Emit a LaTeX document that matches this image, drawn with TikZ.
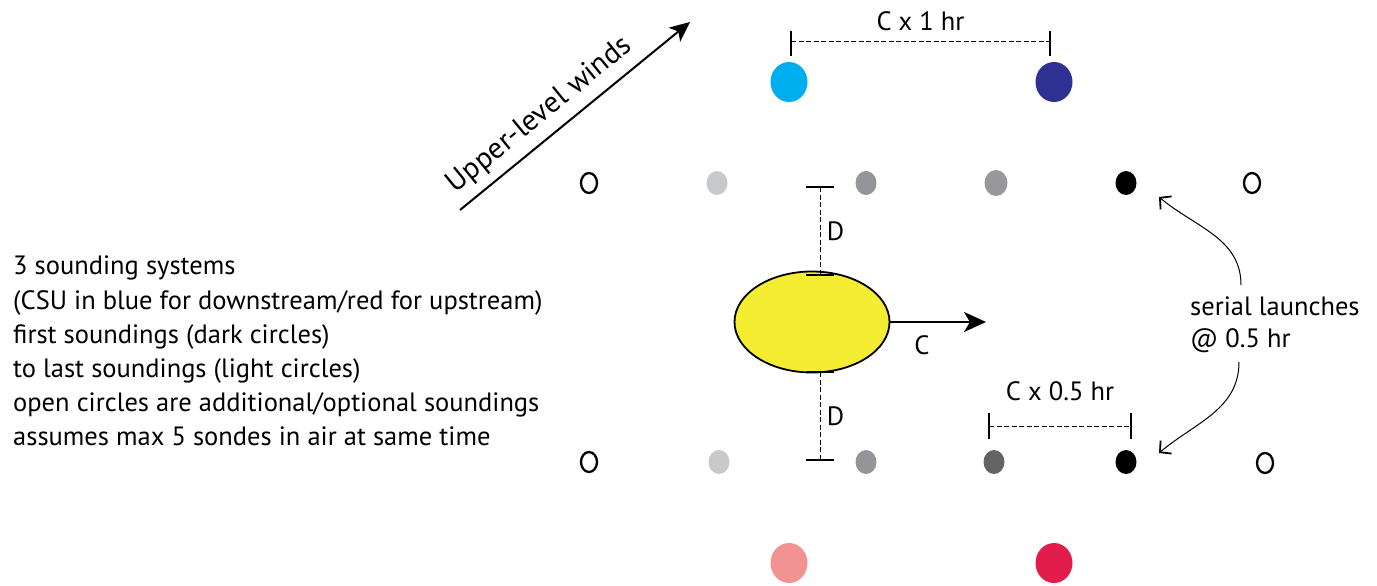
\documentclass[tikz,border=0pt]{standalone}
\usepackage{fontspec}
\setmainfont{PT Sans}
\usetikzlibrary{arrows.meta,shapes.geometric,calc}
\definecolor{cyanC}{RGB}{0,174,239}
\definecolor{navyC}{RGB}{46,49,146}
\definecolor{pinkC}{RGB}{242,146,146}
\definecolor{redC}{RGB}{226,29,76}
\definecolor{stormY}{RGB}{245,237,50}
\definecolor{grayL}{RGB}{200,201,203}
\definecolor{grayM}{RGB}{147,149,152}
\definecolor{grayN}{RGB}{152,152,155}
\definecolor{grayD}{RGB}{99,100,102}
\begin{document}
\begin{tikzpicture}[x=1pt,y=-1pt,
  font=\fontsize{26.5}{34.2}\selectfont,
  bigdot/.style={ellipse, inner sep=0, minimum width=37pt, minimum height=40pt},
  smalldot/.style={ellipse, inner sep=0, minimum width=21pt, minimum height=24pt},
  opendot/.style={ellipse, draw, line width=2.3pt, inner sep=0, minimum width=16pt, minimum height=20pt},
  dimline/.style={line width=1pt, dash pattern=on 5pt off 2.5pt},
  dimtick/.style={line width=1.8pt},
  bigarrow/.style={line width=2.2pt, -{Stealth[length=22pt,width=20pt,inset=6pt]}},
  curvearrow/.style={line width=1pt, -{Straight Barb[length=8pt,width=17pt,line width=1.8pt]}}]
\useasboundingbox (0,0) rectangle (1377,586);

% left text
\node[anchor=north west, align=left, inner sep=0] (legend) at (13,256)
  {3 sounding systems\\
   (CSU in blue for downstream/red for upstream)\\
   first soundings (dark circles)\\
   to last soundings (light circles)\\
   open circles are additional/optional soundings\\
   assumes max 5 sondes in air at same time};

% upper-level winds
\coordinate (w0) at (460,210);
\coordinate (w1) at (690,22);
\draw[bigarrow, line width=2pt, -{Stealth[length=20pt,width=18pt,inset=5pt]}] (w0) -- (w1)
  node[pos=0.41, sloped, above=5pt, font=\fontsize{29.5}{31}\selectfont] {Upper-level winds};

% big dots
\node[bigdot, fill=cyanC] (bl) at (789,82) {};
\node[bigdot, fill=navyC] (bd) at (1054,82) {};
\node[bigdot, fill=pinkC] (rl) at (789,563) {};
\node[bigdot, fill=redC] (rd) at (1054,563) {};

% top row
\node[opendot] (o1) at (589,183) {};
\node[smalldot, fill=grayL] (g1) at (717,183) {};
\node[smalldot, fill=grayM] (g2) at (866,183) {};
\node[smalldot, fill=grayN, minimum width=23pt, minimum height=26pt] (g3) at (996,183) {};
\node[smalldot, fill=black] (k1) at (1126,183) {};
\node[opendot] (o2) at (1252,183) {};

% bottom row
\node[opendot] (o3) at (589,462) {};
\node[smalldot, fill=grayL] (g4) at (719,462) {};
\node[smalldot, fill=grayM] (g5) at (866,462) {};
\node[smalldot, fill=grayD] (g6) at (994,462) {};
\node[smalldot, fill=black] (k2) at (1126,462) {};
\node[opendot] (o4) at (1265,463) {};

% storm
\node[ellipse, draw, line width=1.8pt, fill=stormY, inner sep=0,
      minimum width=155pt, minimum height=101pt] (storm) at (812,322) {};
\coordinate (cEnd) at (986,322);
\draw[bigarrow] (storm.east) -- (cEnd) node[pos=0.33, below=9pt] {C};

% D dimensions
\coordinate (dA) at (820,187);
\coordinate (dB) at (820,275);
\coordinate (dC) at (820,372);
\coordinate (dD) at (820,460);
\draw[dimline] (dA) -- (dB) node[midway, right=3pt] {D};
\draw[dimtick] ($(dA)+(-14,0)$) -- ($(dA)+(14,0)$);
\draw[dimtick] ($(dB)+(-14,0)$) -- ($(dB)+(14,0)$);
\draw[dimline] (dC) -- (dD) node[midway, right=3pt] {D};
\draw[dimtick] ($(dC)+(-14,0)$) -- ($(dC)+(14,0)$);
\draw[dimtick] ($(dD)+(-14,0)$) -- ($(dD)+(14,0)$);

% C x 1 hr
\coordinate (h1) at (791,42);
\coordinate (h2) at (1050,42);
\draw[dimline] (h1) -- (h2) node[midway, above=7pt] {C x 1 hr};
\draw[dimtick, line width=1.5pt] ($(h1)+(0,-11)$) -- ($(h1)+(0,14)$);
\draw[dimtick, line width=1.5pt] ($(h2)+(0,-11)$) -- ($(h2)+(0,14)$);

% C x 0.5 hr
\coordinate (q1) at (989,426);
\coordinate (q2) at (1131,426);
\draw[dimline] (q1) -- (q2) node[midway, above=21pt] {C x 0.5 hr};
\draw[dimtick, line width=1.5pt] ($(q1)+(0,-13)$) -- ($(q1)+(0,13)$);
\draw[dimtick, line width=1.5pt] ($(q2)+(0,-13)$) -- ($(q2)+(0,13)$);

% serial launches
\node[anchor=north west, align=left, inner sep=0, font=\fontsize{26.5}{32}\selectfont] (serial) at (1190,297)
  {serial launches\\@ 0.5 hr};
\coordinate (s1) at (1241,285);
\coordinate (e1) at (1159,197);
\coordinate (s2) at (1239,362);
\coordinate (e2) at (1159,453);
\draw[curvearrow] (s1) to[out=90, in=-40] (e1);
\draw[curvearrow] (s2) to[out=-90, in=40] (e2);
\end{tikzpicture}
\end{document}
